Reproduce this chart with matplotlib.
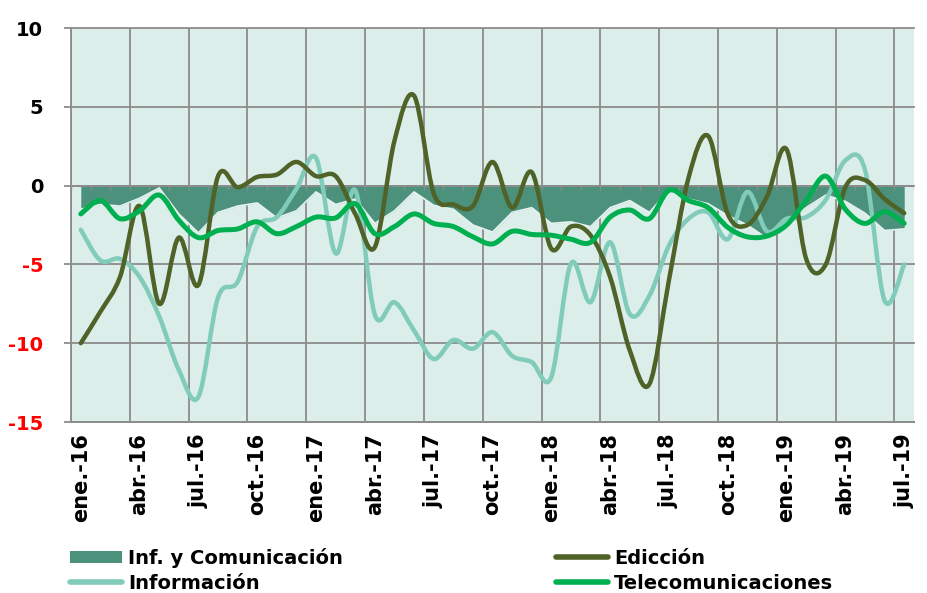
import numpy as np
import matplotlib.pyplot as plt
from matplotlib.path import Path
from matplotlib.patches import PathPatch, Patch
from matplotlib.lines import Line2D

months = ["ene.-16", "feb.-16", "mar.-16", "abr.-16", "may.-16", "jun.-16",
          "jul.-16", "ago.-16", "sep.-16", "oct.-16", "nov.-16", "dic.-16",
          "ene.-17", "feb.-17", "mar.-17", "abr.-17", "may.-17", "jun.-17",
          "jul.-17", "ago.-17", "sep.-17", "oct.-17", "nov.-17", "dic.-17",
          "ene.-18", "feb.-18", "mar.-18", "abr.-18", "may.-18", "jun.-18",
          "jul.-18", "ago.-18", "sep.-18", "oct.-18", "nov.-18", "dic.-18",
          "ene.-19", "feb.-19", "mar.-19", "abr.-19", "may.-19", "jun.-19",
          "jul.-19"]

inf_com = [-1.5, -1.2, -1.3, -0.8, -0.15, -1.8, -3.0, -1.7, -1.3, -1.1, -2.05, -1.6,
           -0.4, -1.2, -0.85, -2.4, -1.6, -0.4, -1.25, -1.5, -2.5, -2.95, -1.7, -1.4,
           -2.4, -2.3, -2.6, -1.4, -0.95, -1.7, -0.3, -0.85, -1.15, -1.9,
           -2.5, -3.35, -2.3, -1.4, -0.6, -1.0, -1.75, -2.85, -2.75]

edicion = [-10.0, -8.0, -5.8, -1.3, -7.5, -3.3, -6.3, 0.6, -0.1, 0.55, 0.7, 1.5,
           0.6, 0.6, -1.8, -3.9, 2.85, 5.7, -0.5, -1.2, -1.3, 1.5, -1.4, 0.85,
           -4.0, -2.6, -3.15, -5.8, -10.45, -12.6, -6.0, 0.5, 3.15, -1.8,
           -2.5, -0.7, 2.3, -4.65, -5.0, -0.1, 0.35, -0.85, -1.75]

informacion = [-2.8, -4.75, -4.65, -5.8, -8.3, -11.7, -13.4, -7.1, -6.1, -2.6, -2.0, -0.2,
               1.75, -4.3, -0.3, -8.2, -7.4, -9.2, -11.0, -9.8, -10.35, -9.3, -10.8, -11.2,
               -12.15, -4.95, -7.4, -3.6, -8.15, -7.0, -3.8, -2.1, -1.7, -3.4,
               -0.4, -2.9, -2.1, -2.0, -0.9, 1.6, 1.0, -7.3, -5.0]

telecom = [-1.8, -0.95, -2.1, -1.6, -0.6, -2.2, -3.3, -2.85, -2.75, -2.3, -3.05, -2.6,
           -2.0, -2.05, -1.15, -3.05, -2.6, -1.8, -2.4, -2.6, -3.25, -3.7, -2.9, -3.1,
           -3.15, -3.4, -3.6, -2.0, -1.55, -2.1, -0.3, -0.95, -1.4, -2.65,
           -3.25, -3.2, -2.5, -0.95, 0.6, -1.5, -2.4, -1.65, -2.4]

yticks = [-15, -10, -5, 0, 5, 10]

bg = "#dbeee9"
grid_col = "#8c8c8c"
area_col = "#4b917b"
ed_col = "#4f6228"
inf_col = "#80cbb9"
tel_col = "#00b050"


def smooth_line(ax, x, y, color, lw, z):
    # excel-like smoothed line: cubic bezier through the points
    n = len(x)
    verts = [(x[0], y[0])]
    codes = [Path.MOVETO]
    for i in range(n - 1):
        a = max(i - 1, 0)
        d = min(i + 2, n - 1)
        c1 = (x[i] + (x[i + 1] - x[a]) / 6, y[i] + (y[i + 1] - y[a]) / 6)
        c2 = (x[i + 1] - (x[d] - x[i]) / 6, y[i + 1] - (y[d] - y[i]) / 6)
        verts += [c1, c2, (x[i + 1], y[i + 1])]
        codes += [Path.CURVE4] * 3
    ax.add_patch(PathPatch(Path(verts, codes), facecolor="none", edgecolor=color,
                           lw=lw, capstyle="round", joinstyle="round", zorder=z))


fig = plt.figure(figsize=(9.27, 5.93), dpi=100)
ax = fig.add_axes([71 / 927, 1 - 422 / 593, 843 / 927, 394 / 593])
ax.set_facecolor(bg)

x = np.arange(len(months))
ax.set_xlim(-0.5, len(months) - 0.5)
ax.set_ylim(-15, 10)

# grid
for yv in yticks:
    ax.axhline(yv, color=grid_col, lw=1.3, zorder=1, clip_on=False)
for xv in np.arange(-0.5, len(months) - 1, 3):
    ax.axvline(xv, color=grid_col, lw=1.3, zorder=1)

ax.fill_between(x, inf_com, 0, color=area_col, lw=0, zorder=2)
ax.plot(x, inf_com, color="#e6f3ef", lw=1.2, zorder=2.1)

# zero axis with month tick marks
ax.axhline(0, color=grid_col, lw=1.3, zorder=2.5)
ax.vlines(np.arange(-0.5, len(months)), -0.28, 0, color=grid_col, lw=1.0, zorder=2.5)

smooth_line(ax, x, informacion, inf_col, 3.2, 3)
smooth_line(ax, x, edicion, ed_col, 3.2, 4)
smooth_line(ax, x, telecom, tel_col, 3.6, 5)

for s in ["top", "right"]:
    ax.spines[s].set_visible(False)
for s in ["left", "bottom"]:
    ax.spines[s].set_color(grid_col)
    ax.spines[s].set_linewidth(1.3)

ax.set_yticks(yticks)
ax.set_yticklabels([str(v) for v in yticks], fontsize=14, fontweight="bold")
for lab, v in zip(ax.get_yticklabels(), yticks):
    lab.set_color("red" if v < 0 else "black")
ax.tick_params(axis="y", length=5, width=1.3, color=grid_col, pad=15)

ax.set_xticks(x[::3])
ax.set_xticklabels(months[::3], rotation=90, fontsize=15, fontweight="bold")
ax.tick_params(axis="x", length=0, pad=8)

handles = [Patch(facecolor=area_col, edgecolor="none"),
           Line2D([], [], color=inf_col, lw=4, solid_capstyle="round"),
           Line2D([], [], color=ed_col, lw=4, solid_capstyle="round"),
           Line2D([], [], color=tel_col, lw=4, solid_capstyle="round")]
labels = ["Inf. y Comunicación", "Información", "Edicción", "Telecomunicaciones"]
fig.legend(handles, labels, loc="upper left", bbox_to_anchor=(62 / 927, 1 - 540 / 593),
           ncol=2, frameon=False, prop={"size": 14, "weight": "bold"},
           handlelength=2.7, handleheight=0.6, handletextpad=0.3,
           columnspacing=10.95, labelspacing=0.3, borderaxespad=0)

fig.savefig("out.png", dpi=100)
